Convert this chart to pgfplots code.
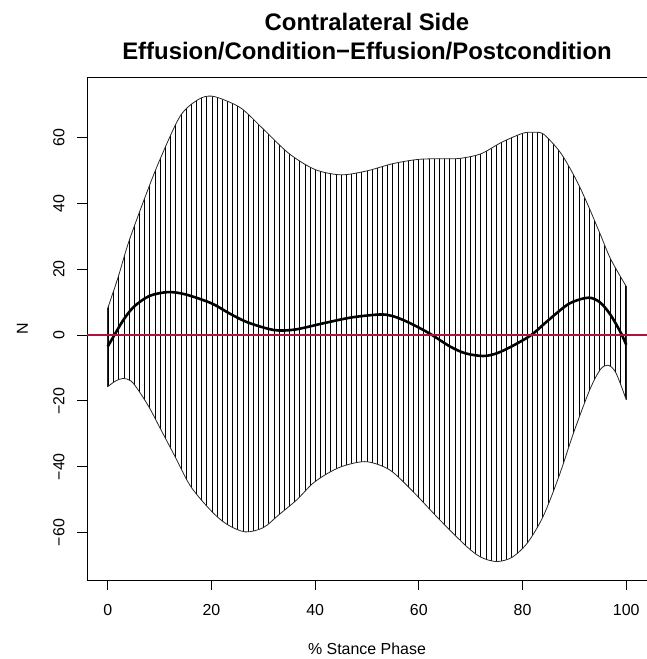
\documentclass[border=0pt]{standalone}
\usepackage{fontspec}
\setmainfont{Liberation Sans}
\usepackage{pgfplots}
\pgfplotsset{compat=1.18}
\usepgfplotslibrary{fillbetween}
\usetikzlibrary{patterns.meta}

\definecolor{zeroline}{RGB}{178,18,58}

\begin{document}
\begin{tikzpicture}
\begin{axis}[
    name=ax,
    at={(0,0)}, anchor=south west,
    scale only axis,
    width=560bp, height=503bp,
    xmin=-4, xmax=104,
    ymin=-74.4, ymax=78.3,
    xtick={0,20,...,100},
    ytick={-60,-40,...,60},
    yticklabels={\textminus60,\textminus40,\textminus20,0,20,40,60},
    tick pos=left,
    tick align=outside,
    major tick length=10bp,
    tick style={black, line width=0.8bp},
    axis line style={line width=0.9bp},
    /pgf/number format/assume math mode=true,
    ticklabel style={font=\fontsize{16}{19}\selectfont},
    xticklabel style={anchor=center, yshift=-20bp},
    yticklabel style={rotate=90, anchor=center, yshift=18bp},
    clip=true,
]
  \addplot [name path=upper, smooth, tension=0.5, line width=0.8bp, black!85] coordinates {
    (0,8.1) (2,17.5) (4,28) (7,41) (10,53) (14,66.5) (17.5,71.5) (20,72.5)
    (23,71) (26,68.5) (30,62.5) (35,55) (40,50.2) (45,48.6) (50,49.8)
    (55,52) (60,53.3) (65,53.5) (68,53.6) (72,55) (76,58.5) (80,61.2)
    (82,61.5) (84,61) (87,56) (89,51) (91,45) (93,38) (95,30.5) (97,23) (100,14.7)
  };
  \addplot [name path=lower, smooth, tension=0.5, line width=0.8bp, black!85] coordinates {
    (0,-15.7) (1.5,-14) (3,-13.2) (4.5,-14) (6,-17) (8,-22) (10,-28) (13,-37)
    (16,-46) (20,-53.5) (23,-57.5) (26.5,-59.8) (30,-58.5) (33,-54.6)
    (36.5,-50) (39.6,-45) (43,-41.5) (46,-39.5) (50,-38.5) (54.4,-41)
    (58.9,-47.6) (64,-56.1) (69.2,-64.2) (72,-67.5) (75,-68.8) (78,-67.5)
    (81,-63) (84,-55) (87,-43) (90,-29) (93,-16.5) (95,-10.5) (96.5,-9.2)
    (98,-11.5) (100,-19.7)
  };
  \addplot [pattern={Lines[angle=90, distance=5.17bp, line width=0.9bp]}, pattern color=black, draw=none]
    fill between [of=upper and lower];
  \addplot [line width=0.8bp, black!85] coordinates {(0,-15.7) (0,8.1)};
  \addplot [line width=0.8bp, black!85] coordinates {(100,-19.7) (100,14.7)};
  % mean difference
  \addplot [smooth, tension=0.5, line width=2.6bp, black] coordinates {
    (0,-3.5) (1.3,0) (3,4.5) (5,8.5) (8,11.8) (11.6,13) (15,12.3) (20,9.6)
    (23.5,6.5) (27,3.8) (32,1.5) (36,1.6) (41.5,3.5) (47,5.3) (52.5,6.2)
    (55,5.7) (58,3.8) (62,0.5) (66,-3.5) (69,-5.6) (72.4,-6.4) (75,-5.6)
    (78,-3.4) (81.7,0) (85,4.5) (89,9.5) (92.7,11.3) (95,9.8) (97,6)
    (99,0.5) (100,-3)
  };
  \addplot [line width=2bp, zeroline] coordinates {(-4,0) (104,0)};
\end{axis}
\node [anchor=base, font=\fontsize{24}{28}\selectfont\bfseries] at ([yshift=46bp]ax.north) {Contralateral Side};
\node [anchor=base, font=\fontsize{24}{28}\selectfont\bfseries] at ([yshift=17bp]ax.north) {Effusion/Condition\textminus Effusion/Postcondition};
\node [anchor=base, font=\fontsize{16}{19}\selectfont] at ([yshift=-74bp]ax.south) {\% Stance Phase};
\node [anchor=base, rotate=90, font=\fontsize{16}{19}\selectfont] at ([xshift=-59bp]ax.west) {N};
\pgfresetboundingbox
\path [use as bounding box] (-87bp,-79bp) rectangle (560bp,580bp);
\end{tikzpicture}
\end{document}
